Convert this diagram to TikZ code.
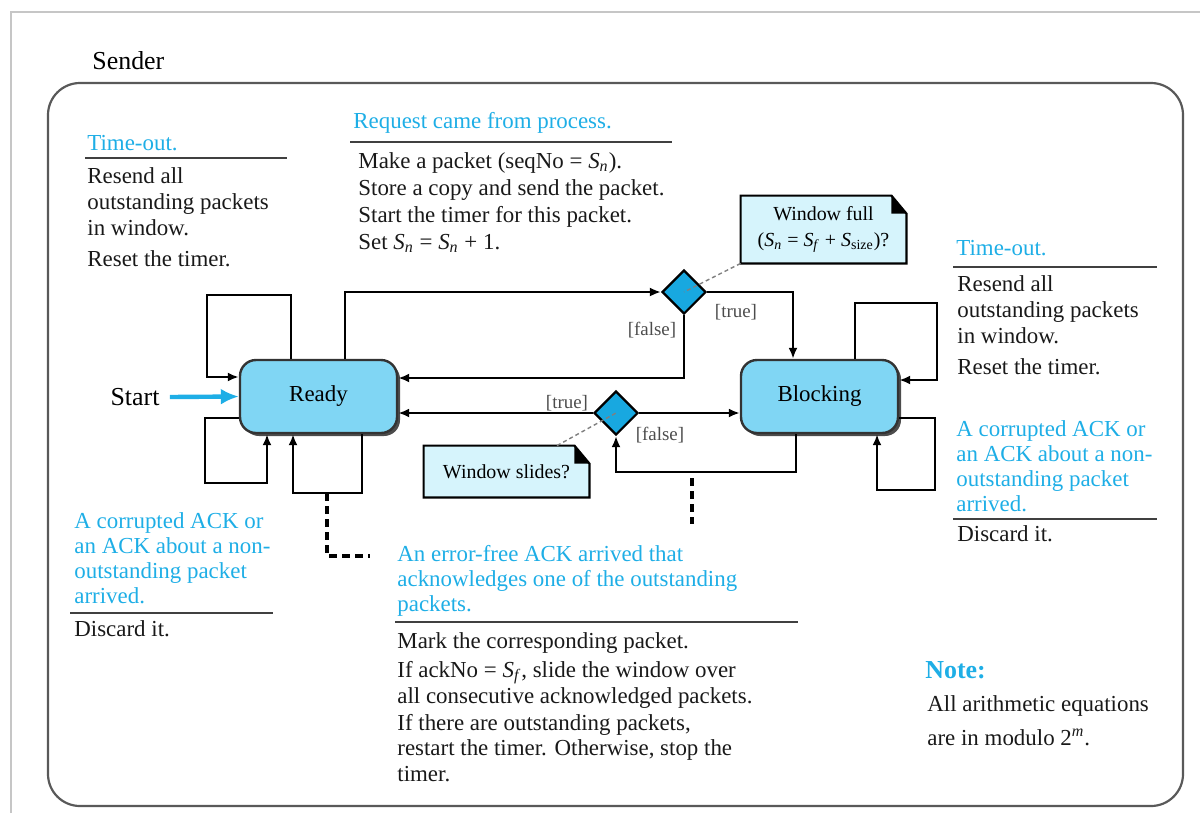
\documentclass[tikz,border=0pt]{standalone}
\usepackage{fontspec}
\setmainfont{Liberation Serif}
\usepackage{tikz}
\usetikzlibrary{arrows.meta,shapes,shadows,backgrounds}
\definecolor{procblue}{RGB}{30,174,230}
\definecolor{statefill}{RGB}{128,214,244}
\definecolor{diafill}{RGB}{24,168,224}
\definecolor{notefill}{RGB}{214,244,252}
\newcommand{\Sv}[1]{\textit{S}\textsubscript{\textit{#1}}}
\newcommand{\notefold}[1]{%
  \begin{scope}[on background layer]
    \draw[fill=notefill, line width=1.1bp] (#1.south west) -- (#1.north west) -- ([xshift=-7.5bp]#1.north east)
      -- ([yshift=-9bp]#1.north east) -- (#1.south east) -- cycle;
  \end{scope}
  \fill ([xshift=-7.5bp]#1.north east) -- ([xshift=-7.5bp,yshift=-9bp]#1.north east) -- ([yshift=-9bp]#1.north east) -- cycle;}

\begin{document}
\begin{tikzpicture}[>={Latex[length=5.5bp,width=4.5bp]}, x=0.5bp, y=-0.5bp, every node/.style={inner sep=0pt},
  stnode/.style={draw=black!80, line width=1.2bp, rounded corners=8bp, fill=statefill,
    minimum width=78.5bp, minimum height=36.5bp, font=\fontsize{11.5}{13}\selectfont,
    drop shadow={shadow xshift=1.5bp, shadow yshift=-1.5bp, fill=black!70, opacity=1}},
  decision/.style={diamond, draw=black, line width=1.1bp, fill=diafill, minimum width=22bp, minimum height=22bp},
  notebox/.style={align=center, minimum width=82.5bp, font=\fontsize{10}{13}\selectfont},
  bodytxt/.style={align=left, text=black!90, font=\fontsize{11.5}{13}\selectfont},
  headtxt/.style={align=left, text=procblue, font=\fontsize{11.5}{12.5}\selectfont},
  lbl/.style={text=black!70, font=\fontsize{9.5}{11}\selectfont},
  rulefine/.style={black!75, line width=0.7bp},
  conn/.style={->, line width=1.1bp},
  startarr/.style={-{Latex[length=9bp,width=8bp]}, draw=procblue, fill=procblue, line width=2.2bp},
  ackdash/.style={line width=2bp, dash pattern=on 4bp off 2.5bp},
  hintline/.style={gray, line width=0.7bp, dash pattern=on 2bp off 1.5bp}]
  \useasboundingbox (0,0) rectangle (1200,813);
  % Frame
  \draw[gray!45, line width=0.7bp] (11,813) -- (11,12) -- (1200,12);
  \node[anchor=west, font=\fontsize{13}{15}\selectfont] (sender) at (92,61) {Sender};
  \draw[black!65, line width=1.1bp, rounded corners=16bp] (48,83) rectangle (1183,806);

  % States
  \node[stnode] (ready) at (318.5,396.5) {Ready};
  \node[stnode] (blocking) at (819.5,396.5) {Blocking};
  \node[font=\fontsize{13}{15}\selectfont] (start) at (135,397) {Start};

  \node[decision] (dfull) at (684,292) {};
  \node[decision] (dslide) at (616,413) {};

  \node[notebox, minimum height=33.5bp] (wfull) at (823.5,229.5) {Window full\\(\Sv{n} = \Sv{f} + \textit{S}\textsubscript{size})?};
  \notefold{wfull}
  \node[notebox, minimum height=25.5bp] (wslide) at (506.5,471.5) {Window slides?};
  \notefold{wslide}

  % Edges
  \draw[startarr] ([xshift=5bp]start.east) -- (ready.west);
  \draw[conn] (345,0 |- ready.north) |- (dfull.west);
  \draw[conn] (dfull.east) -| (793,0 |- blocking.north);
  \draw[conn] (dfull.south) |- (ready.east |- 0,378);
  \draw[conn] (dslide.west) -- (ready.east |- dslide.west);
  \draw[conn] (dslide.east) -- (blocking.west |- dslide.east);
  \draw[conn] (796,0 |- blocking.south) -- (796,472) -| (dslide.south);

  \node[lbl] (tfull) at (736,312) {[true]};
  \node[lbl] (ffull) at (652,330) {[false]};
  \node[lbl] (tslide) at (567,403) {[true]};
  \node[lbl] (fslide) at (660,435) {[false]};

  \draw[hintline] (wfull.south west) -- (dfull.center);
  \draw[hintline] (557,0 |- wslide.north) -- (dslide.center);

  % Selfloops
  \draw[conn] (291,0 |- ready.north) |- (207,295) |- (ready.west |- 0,377);
  \draw[conn] (ready.west |- 0,418) -| (205,483) -| (267,0 |- ready.south);
  \draw[conn] (362,0 |- ready.south) |- (293,493) -- (293,0 |- ready.south);
  \draw[conn] (855,0 |- blocking.north) |- (937,303) |- (blocking.east |- 0,380);
  \draw[conn] (blocking.east |- 0,418) -| (935,490) -| (877,0 |- blocking.south);

  % ACK hints
  \coordinate (ackR) at (327,493);
  \coordinate (ackRend) at (370,556);
  \coordinate (ackB) at (692,478);
  \coordinate (ackBend) at (692,524);
  \draw[ackdash] (ackR) |- (ackRend);
  \draw[ackdash] (ackB) -- (ackBend);

  % Actions
  \node[headtxt, anchor=west] (toLhead) at (87,143) {Time-out.};
  \draw[rulefine] (85,158) -- (287,158);
  \node[bodytxt, anchor=north west] (toLbody) at (87,167) {Resend all\\outstanding packets\\in window.\\[2.5bp]Reset the timer.};

  \node[headtxt, anchor=west] (reqhead) at (353,123) {Request came from process.};
  \draw[rulefine] (350,142) -- (672,142);
  \node[bodytxt, anchor=north west] (reqbody) at (358,152) {Make a packet (seqNo = \Sv{n}).\\[0.5bp]Store a copy and send the packet.\\[0.5bp]Start the timer for this packet.\\[0.5bp]Set \Sv{n} = \Sv{n} + 1.};

  \node[headtxt, anchor=west] (toRhead) at (956,248) {Time-out.};
  \draw[rulefine] (953,267) -- (1157,267);
  \node[bodytxt, anchor=north west] (toRbody) at (957,275) {Resend all\\outstanding packets\\in window.\\[2.5bp]Reset the timer.};

  \node[headtxt, anchor=north west] (corrRhead) at (956,420) {A corrupted ACK or\\an ACK about a non-\\outstanding packet\\arrived.};
  \draw[rulefine] (953,519) -- (1157,519);
  \node[bodytxt, anchor=west] (corrRbody) at (957,534) {Discard it.};

  \node[headtxt, anchor=north west] (corrLhead) at (74,512) {A corrupted ACK or\\an ACK about a non-\\outstanding packet\\arrived.};
  \draw[rulefine] (70,613) -- (273,613);
  \node[bodytxt, anchor=west] (corrLbody) at (74,629) {Discard it.};

  \node[headtxt, anchor=north west] (ackhead) at (397,545) {An error-free ACK arrived that\\acknowledges one of the outstanding\\packets.};
  \draw[rulefine] (395,622) -- (798,622);
  \node[bodytxt, anchor=north west] (ackbody) at (397,632) {Mark the corresponding packet.\\[1.5bp]If ackNo = \Sv{f}, slide the window over\\all consecutive acknowledged packets.\\[0.5bp]If there are outstanding packets,\\restart the timer. Otherwise, stop the\\timer.};

  \node[anchor=west, text=procblue, font=\fontsize{13}{15}\selectfont\bfseries] (notehead) at (925,670) {Note:};
  \node[bodytxt, anchor=north west] (notebody) at (927,695) {All arithmetic equations\\[4bp]are in modulo 2\textsuperscript{\textit{m}}.};
\end{tikzpicture}
\end{document}
